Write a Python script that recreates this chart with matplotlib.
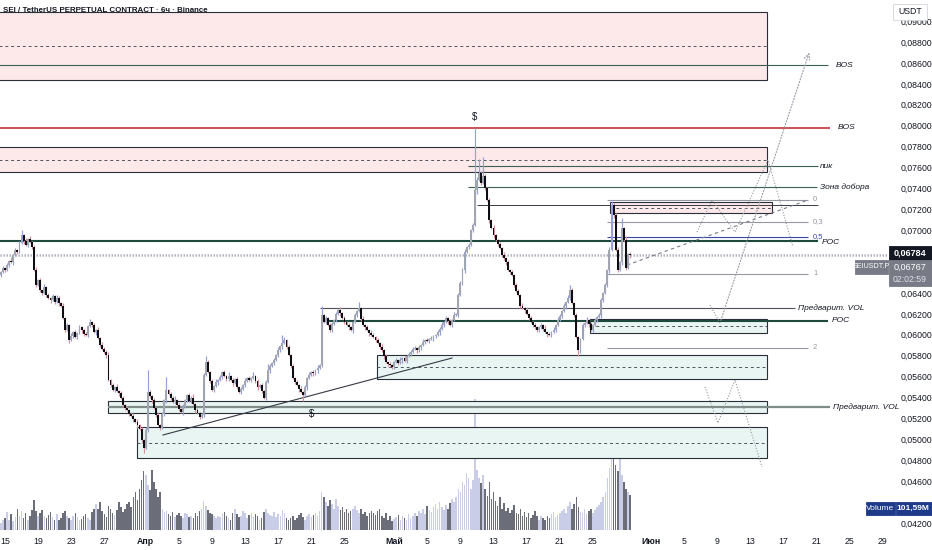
import matplotlib.pyplot as plt
from matplotlib.patches import Rectangle

# SEIUSDT.P perpetual, 6h candles starting 14 Mar 12:00
# x axis = days from 15 Mar 00:00, prices below in units of 0.0001 USDT
first_open = 657
closes = [
    660, 664, 662, 667, 671, 670, 676, 681, 679, 688,
    695, 690, 686, 692, 689, 684, 662, 648, 652, 643,
    640, 646, 638, 635, 633, 637, 631, 635, 630, 628,
    616, 605, 609, 595, 599, 603, 598, 602, 607, 605,
    601, 600, 608, 612, 609, 603, 605, 597, 590, 586,
    584, 581, 557, 552, 547, 550, 546, 544, 540, 533,
    530, 528, 524, 522, 519, 517, 514, 510, 499, 492,
    509, 545, 541, 538, 530, 523, 514, 511, 524, 538,
    547, 543, 540, 536, 538, 533, 529, 526, 531, 538,
    542, 537, 540, 534, 528, 525, 521, 523, 562, 574,
    564, 556, 547, 551, 555, 557, 560, 564, 561, 558,
    561, 557, 554, 558, 550, 545, 548, 552, 556, 559,
    557, 559, 561, 556, 550, 552, 546, 540, 555, 566,
    570, 573, 576, 581, 585, 589, 592, 595, 588, 581,
    570, 559, 555, 552, 548, 545, 542, 550, 559, 562,
    564, 563, 566, 568, 571, 619, 612, 616, 609, 605,
    610, 614, 620, 624, 621, 616, 612, 609, 607, 605,
    612, 619, 623, 626, 615, 609, 607, 605, 602, 600,
    598, 595, 592, 588, 585, 580, 574, 572, 571, 569,
    574, 576, 573, 576, 578, 575, 580, 582, 584, 586,
    587, 585, 588, 590, 593, 595, 594, 596, 597, 599,
    600, 603, 606, 609, 612, 616, 613, 609, 614, 619,
    619, 638, 650, 662, 679, 684, 686, 700, 705, 738,
    748, 755, 745, 752, 740, 729, 710, 702, 695, 691,
    687, 683, 676, 673, 670, 662, 660, 657, 648, 642,
    638, 628, 626, 624, 620, 616, 612, 609, 607, 605,
    607, 609, 606, 603, 601, 600, 603, 605, 609, 614,
    618, 623, 628, 631, 635, 643, 630, 619, 598, 585,
    596, 609, 611, 614, 610, 605, 609, 614, 617, 619,
    633, 640, 648, 662, 681, 724, 715, 681, 662, 670,
    702, 691, 664, 677, 676.7,
]
# upper / lower wick length of each candle (0.0001 units)
wick_up = """1212131212 2131212312 1312121321 2121312121 1213121213 2131213121
1212312121 3121213121 2121312131 1213121212 2121312121 3121212131 2131212121
2121312312 1212131212 1213121212 2121312121 1212131213 2121312121 1213121212
2121312121 1213121213 2212312123 3121212131 1213121212 2121312121 1213121213
2121312121 1213121212 2121312131 21312"""
wick_dn = """2121213121 1312121212 2121312121 1213121213 2121213121 1312121312
2121213121 1213121212 3121212131 2121312121 1212131212 2131212121 1212312121
3121213121 2121312131 1213121212 2121312121 3121212131 1212131212 2121312121
1213121213 2131213121 1212312121 3121213121 2121312121 1213121212 2121312121
1213121213 2121312121 3212313121 31213"""
big_highs = {10: 700, 71: 566, 80: 560, 99: 580, 129: 572, 136: 600, 155: 628,
             173: 631, 229: 798, 231: 768, 233: 770, 275: 648, 295: 728, 300: 712}
big_lows = {69: 487, 146: 537, 279: 580}

# volume, millions
volume_m = [
    20, 28, 35, 52, 30, 45, 25, 38, 60, 40,
    55, 35, 48, 30, 42, 58, 87, 55, 40, 48,
    58, 40, 35, 44, 52, 38, 30, 45, 28, 36,
    48, 55, 40, 34, 30, 42, 50, 38, 28, 32,
    40, 46, 36, 30, 52, 60, 75, 62, 80, 55,
    45, 38, 70, 62, 50, 44, 58, 80, 66, 52,
    60, 75, 82, 68, 95, 110, 88, 120, 145, 170,
    160, 130, 115, 175, 140, 120, 95, 110, 60, 52,
    55, 45, 40, 52, 38, 44, 48, 42, 36, 50,
    45, 38, 42, 35, 48, 40, 55, 62, 85, 70,
    58, 50, 45, 40, 36, 42, 38, 46, 52, 40,
    35, 30, 48, 62, 45, 38, 42, 55, 48, 36,
    44, 50, 38, 46, 42, 30, 36, 52, 60, 48,
    44, 40, 52, 38, 46, 42, 58, 48, 36, 30,
    34, 40, 28, 36, 44, 50, 38, 30, 42, 46,
    38, 44, 50, 42, 55, 110, 95, 80, 70, 88,
    75, 62, 90, 70, 58, 66, 52, 60, 48, 55,
    62, 70, 58, 50, 60, 45, 52, 40, 48, 56,
    50, 44, 55, 60, 40, 36, 48, 30, 42, 26,
    32, 38, 44, 30, 40, 36, 28, 45, 34, 40,
    48, 42, 56, 50, 60, 45, 70, 58, 52, 66,
    75, 62, 80, 68, 58, 72, 60, 78, 90, 82,
    95, 120, 110, 140, 130, 165, 150, 120, 145, 380,
    175, 150, 135, 160, 120, 100, 140, 90, 110, 85,
    70, 95, 60, 78, 55, 65, 48, 58, 72, 50,
    45, 60, 40, 52, 38, 48, 35, 44, 55, 40,
    30, 42, 36, 28, 40, 34, 46, 52, 38, 44,
    48, 56, 62, 50, 70, 82, 60, 75, 95, 68,
    52, 48, 60, 45, 55, 62, 50, 58, 66, 72,
    80, 95, 110, 150, 180, 260, 230, 190, 170, 205,
    160, 140, 120, 110, 101.59,
]

tick_days = [0, 4, 8, 12, 17, 21, 25, 29, 33, 37, 41, 47, 51, 55, 59, 63, 67,
             71, 78, 82, 86, 90, 94, 98, 102, 106]
tick_text = ["15", "19", "23", "27", "Апр", "5", "9", "13", "17", "21", "25",
             "Май", "5", "9", "13", "17", "21", "25", "Июн", "5", "9", "13",
             "17", "21", "25", "29"]

# drawn levels (USDT)
bos_high = 0.0858
bos_red = 0.07978
peak_line = 0.07614
add_zone = 0.07413
poc_high = 0.06897
poc_low = 0.06132
vol_high = 0.06256
vol_low = 0.0531
fib_0, fib_1 = 0.07289, 0.06581
fib_levels = [0, 0.3, 0.5, 1, 2]
fib_names = ["0", "0,3", "0,5", "1", "2"]
last_price = 0.06767
# price scale labels (the ones under the price / volume tags are hidden)
price_ticks = [0.042, 0.046, 0.048, 0.050, 0.052, 0.054, 0.056, 0.058,
               0.060, 0.062, 0.064, 0.070, 0.072, 0.074, 0.076, 0.078, 0.080,
               0.082, 0.084, 0.086, 0.088, 0.090]

wu = [int(ch) for ch in wick_up if ch.isdigit()]
wd = [int(ch) for ch in wick_dn if ch.isdigit()]
assert len(wu) == len(closes) == len(wd) == len(volume_m)

n = len(closes)
days = [-0.5 + i / 4 for i in range(n)]
opens = [first_open] + closes[:-1]
highs, lows = [], []
for i in range(n):
    o, c = opens[i], closes[i]
    highs.append(big_highs.get(i, max(o, c) + wu[i]) / 1e4)
    lows.append(big_lows.get(i, min(o, c) - wd[i]) / 1e4)
opens = [v / 1e4 for v in opens]
closes_p = [v / 1e4 for v in closes]
up = [closes_p[i] >= opens[i] for i in range(n)]

plt.rcParams['font.family'] = ['Liberation Sans Narrow', 'Liberation Sans', 'DejaVu Sans']
TXT = "#131722"

fig = plt.figure(figsize=(9.32, 5.5), dpi=100)
pos = [0, 20 / 550, 888 / 932, 530 / 550]
xlim = (-0.6, 106.64)

#### volume underneath ####
vax = fig.add_axes(pos)
vax.bar(days, volume_m, width=0.19,
        color=["#c9cde8" if u else "#6b6e79" for u in up], zorder=1)
vax.set_xlim(*xlim)
vax.set_ylim(0, 1538)
vax.axis("off")

#### price panel ####
ax = fig.add_axes(pos)
ax.patch.set_alpha(0)
ax.set_xlim(*xlim)
ax.set_ylim(0.041333, 0.092016)
for s in ax.spines.values():
    s.set_visible(False)


def box(x0, x1, p0, p1, face, mid=None):
    ax.add_patch(Rectangle((x0, p0), x1 - x0, p1 - p0, facecolor=face,
                           edgecolor="#2a2e39", lw=0.8, zorder=1))
    if mid is not None:
        ax.hlines(mid, x0, x1, color="#50535e", lw=0.7, ls=(0, (3, 3)), zorder=1)


pink = "#fde9ea"
green = "#e9f5f2"
box(-1, 92.03, 0.08437, 0.09087, pink, 0.0876)
box(-1, 92.03, 0.07557, 0.07796, pink, 0.07672)
box(73.07, 92.63, 0.07165, 0.0727, pink, 0.07213)
box(70.65, 92.03, 0.06017, 0.06151, green, 0.06084)
box(44.93, 92.03, 0.05577, 0.05807, green, 0.05692)
box(12.44, 92.03, 0.05252, 0.05367, green)
box(15.94, 92.03, 0.04822, 0.05118, green, 0.0497)

# horizontal levels
lab = dict(fontsize=6, style="italic", color=TXT, va="center", zorder=5)
ax.hlines(bos_high, -1, 99.4, color="#3b6157", lw=0.8, zorder=2)
ax.text(100.36, bos_high, "BOS", **lab)
ax.hlines(bos_red, -1, 99.64, color="#c0202c", lw=1.1, zorder=2)
ax.text(100.6, bos_red, "BOS", **lab)
ax.hlines(peak_line, 55.92, 98.19, color="#3b6157", lw=0.8, zorder=2)
ax.text(98.43, peak_line, "пик", **lab)
ax.hlines(add_zone, 55.92, 98.07, color="#3b6157", lw=0.8, zorder=2)
ax.text(98.43, add_zone, "Зона добора", **lab)
ax.hlines(0.07241, 57.0, 98.19, color="#363a45", lw=0.7, zorder=2)
ax.hlines(poc_high, -1, 98.19, color="#1d4a3c", lw=1.5, zorder=2)
ax.text(98.67, poc_high - 0.0001, "POC", **lab)
ax.hlines(vol_high, 38.04, 95.41, color="#50535e", lw=0.8, zorder=2)
ax.text(95.8, vol_high, "Предварит. VOL", **lab)
ax.hlines(poc_low, 38.29, 99.4, color="#1d4a3c", lw=1.5, zorder=2)
ax.text(99.88, poc_low, "POC", **lab)
ax.hlines(vol_low, 12.44, 99.64, color="#7f8c88", lw=1.6, zorder=2)
ax.text(100.0, vol_low, "Предварит. VOL", **lab)

# fib retracement
for lvl, name in zip(fib_levels, fib_names):
    p = fib_0 + lvl * (fib_1 - fib_0)
    col = "#3949ab" if lvl == 0.5 else "#9598a1"
    ax.hlines(p, 72.71, 96.98, color=col, lw=0.8, zorder=2)
    ax.text(97.58, p + 0.00008, name, fontsize=5.5, color=col, va="center", zorder=5)

# last price
ax.axhline(last_price, color="#b2b5be", lw=1.8, ls=(0, (0.6, 0.6)), zorder=2)

# trend lines and scenario paths
ax.plot([19.08, 53.99], [0.05042, 0.05778], color="#363a45", lw=0.8, zorder=2)
ax.plot([75.12, 96.98], [0.06667, 0.07289], color="#787b86", lw=0.8,
        ls=(0, (3, 3)), zorder=2)
dot = dict(color="#9598a1", lw=0.8, ls=(0, (1, 1.5)), zorder=2)
ax.plot([83.57, 85.39, 88.16, 92.15, 95.17],
        [0.06983, 0.07289, 0.06983, 0.07672, 0.0684], **dot)
ax.plot([85.14, 86.35], [0.06285, 0.06113], **dot)
ax.annotate("", xy=(97.22, 0.08723), xytext=(86.35, 0.06113),
            arrowprops=dict(arrowstyle="->", color="#9598a1", lw=0.8, ls=":"))
ax.plot([84.54, 86.11, 88.16, 91.43], [0.05501, 0.05157, 0.05568, 0.04736], **dot)

ax.text(56.76, 0.08083, "$", fontsize=7, ha="center", va="center", color=TXT)
ax.text(37.08, 0.05243, "$", fontsize=7, ha="center", va="center", color=TXT)

# candles
ax.vlines([d for d, u in zip(days, up) if u], [l for l, u in zip(lows, up) if u],
          [h for h, u in zip(highs, up) if u], color="#93a0dc", lw=0.85, zorder=3)
ax.vlines([d for d, u in zip(days, up) if not u], [l for l, u in zip(lows, up) if not u],
          [h for h, u in zip(highs, up) if not u], color="#d6909b", lw=0.85, zorder=3)
body_lo = [min(o, c) for o, c in zip(opens, closes_p)]
body_h = [max(abs(c - o), 0.00006) for o, c in zip(opens, closes_p)]
ax.bar(days, body_h, bottom=body_lo, width=0.23,
       color=["#a2a5b0" if u else "#0c0e14" for u in up], zorder=4)

# axes
ax.yaxis.tick_right()
ax.set_yticks(price_ticks)
ax.set_yticklabels([f"{v:.5f}".replace(".", ",") for v in price_ticks])
ax.tick_params(axis="y", length=0, pad=9, labelsize=6.3, labelcolor=TXT)
ax.set_xticks(tick_days)
ax.set_xticklabels(tick_text)
for t in ax.get_xticklabels():
    if not t.get_text().isdigit():
        t.set_fontweight("bold")
ax.tick_params(axis="x", length=0, pad=5, labelsize=6.3, labelcolor=TXT)

#### overlay labels ####
def fx(px):
    return px / 932


def fy(py):
    return 1 - py / 550


fig.text(fx(3), fy(10), "SEI / TetherUS PERPETUAL CONTRACT · 6ч · Binance",
         fontsize=5.7, fontweight="bold", color=TXT, va="center")


def tag(x0, y0, w, h, face, edge=None):
    fig.add_artist(Rectangle((fx(x0), fy(y0 + h)), w / 932, h / 550,
                             transform=fig.transFigure, facecolor=face,
                             edgecolor=edge or face, lw=0.6, zorder=10))


tag(893, 4, 34, 16, "white", "#d1d4dc")
fig.text(fx(910), fy(12), "USDT", fontsize=6.3, ha="center", va="center", color=TXT, zorder=11)
tag(889, 246, 43, 14, "#131722")
fig.text(fx(910), fy(253), "0,06784", fontsize=6.5, ha="center", va="center",
         color="white", fontweight="bold", zorder=11)
tag(855, 260, 33, 14, "#787b86")
fig.text(fx(871.5), fy(267), "SEIUSDT.P", fontsize=5.2, ha="center", va="center", color="white", zorder=11)
tag(889, 260, 43, 26, "#787b86")
fig.text(fx(910), fy(267), "0,06767", fontsize=6.5, ha="center", va="center", color="white", zorder=11)
fig.text(fx(910), fy(279), "02:02:59", fontsize=6.3, ha="center", va="center", color="#e0e3eb", zorder=11)
tag(866, 502, 29, 13, "#1e3a8a")
fig.text(fx(880.5), fy(508.5), "Volume", fontsize=6, ha="center", va="center", color="white", zorder=11)
tag(896, 502, 36, 13, "#1e3a8a")
fig.text(fx(913), fy(508.5), "101,59M", fontsize=6, ha="center", va="center",
         color="white", fontweight="bold", zorder=11)

fig.savefig("out.png", dpi=100)
